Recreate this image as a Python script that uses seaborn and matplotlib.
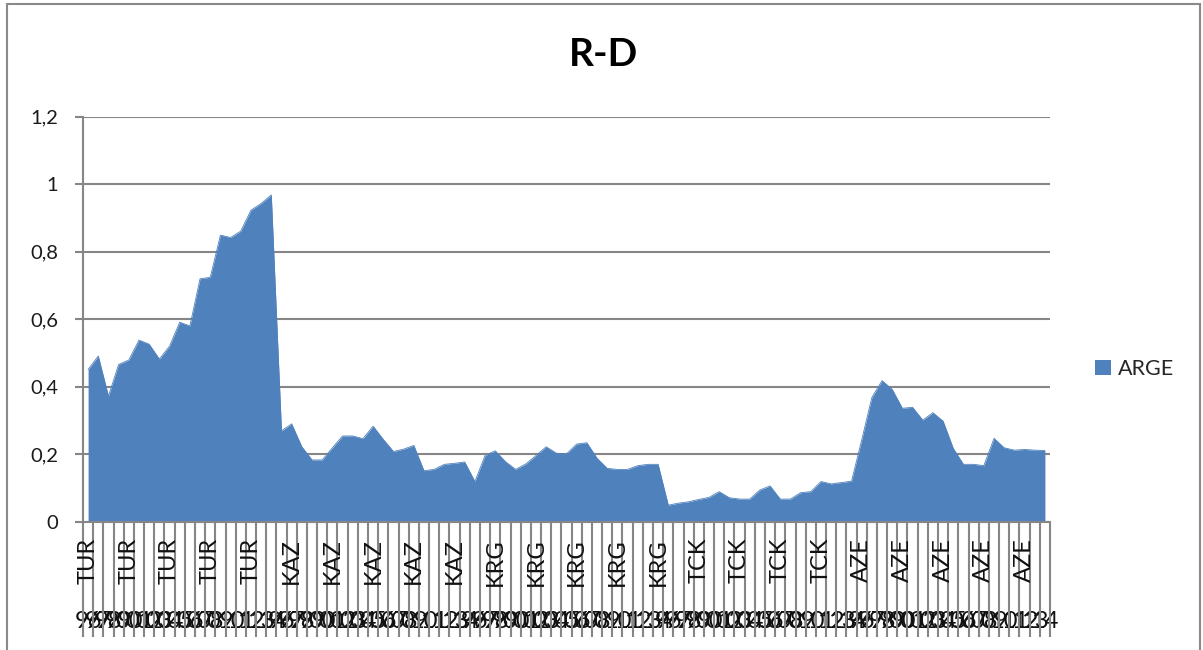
import matplotlib
matplotlib.use("Agg")
import matplotlib.pyplot as plt
import matplotlib.transforms as mtransforms
from matplotlib.patches import Patch, Rectangle
import numpy as np
import seaborn as sns

# ---------------- data ----------------
COUNTRIES = ["TUR", "KAZ", "KRG", "TCK", "AZE"]
YEARS = ["96", "97", "98", "99", "00", "01", "02", "03", "04", "05",
         "06", "07", "08", "09", "10", "11", "12", "13", "14"]
TUR = [0.451, 0.491, 0.372, 0.466, 0.479, 0.538, 0.526, 0.482, 0.520, 0.591,
       0.580, 0.720, 0.724, 0.849, 0.842, 0.861, 0.923, 0.943, 0.968]
KAZ = [0.269, 0.290, 0.222, 0.183, 0.183, 0.219, 0.254, 0.254, 0.246, 0.283,
       0.244, 0.208, 0.215, 0.226, 0.151, 0.155, 0.170, 0.173, 0.177]
KRG = [0.119, 0.196, 0.210, 0.178, 0.155, 0.171, 0.196, 0.222, 0.203, 0.201,
       0.230, 0.234, 0.188, 0.158, 0.155, 0.155, 0.166, 0.170, 0.170]
TCK = [0.049, 0.055, 0.059, 0.066, 0.072, 0.089, 0.071, 0.067, 0.067, 0.094,
       0.106, 0.067, 0.067, 0.086, 0.089, 0.119, 0.112, 0.116, 0.120]
AZE = [0.242, 0.368, 0.418, 0.392, 0.336, 0.339, 0.301, 0.323, 0.298, 0.217,
       0.170, 0.170, 0.166, 0.247, 0.219, 0.212, 0.214, 0.212, 0.211]
SERIES_NAME = "ARGE"
TITLE = "R-D"
Y_TICKS = [0, 0.2, 0.4, 0.6, 0.8, 1.0, 1.2]
Y_TICK_LABELS = ["0", "0,2", "0,4", "0,6", "0,8", "1", "1,2"]

values = TUR + KAZ + KRG + TCK + AZE
cat_country = [c for c in COUNTRIES for _ in YEARS]
cat_year = [y for _ in COUNTRIES for y in YEARS]
xpos = np.arange(len(values))

# ---------------- style ----------------
sns.set_theme(style="white")
plt.rcParams["font.family"] = ["Lato", "DejaVu Sans"]

BLUE = "#4F81BD"
GREY = "#868686"
W, H = 1203, 650

fig = plt.figure(figsize=(W / 100, H / 100), dpi=100)
fig.patch.set_facecolor("white")
ax = fig.add_axes([83 / W, 1 - 521.7 / H, (1050 - 83) / W, (521.7 - 116.7) / H])

ax.fill_between(xpos, values, 0, color=BLUE, linewidth=0, zorder=2)
sns.lineplot(x=xpos, y=values, ax=ax, color=BLUE, linewidth=0.6, legend=False, zorder=3)

ax.set_xlim(-0.5, len(values) - 0.5)
ax.set_ylim(0, 1.2)

# grid
ax.set_axisbelow(True)
ax.yaxis.grid(True, color=GREY, linewidth=1.5)
ax.xaxis.grid(False)

# spines
for s in ["top", "right"]:
    ax.spines[s].set_visible(False)
for s in ["left", "bottom"]:
    ax.spines[s].set_color(GREY)
    ax.spines[s].set_linewidth(1.5)
    ax.spines[s].set_zorder(4)

# y axis
ax.set_yticks(Y_TICKS)
ax.set_yticklabels(Y_TICK_LABELS)
ax.tick_params(axis="y", which="major", direction="out", length=5.8, width=1.5,
               color=GREY, pad=12, labelsize=14.5, labelcolor="#1a1a1a", left=True)

# x axis: year labels as major tick labels, separators as minor ticks
ax.set_xticks(xpos)
ax.set_xticklabels(cat_year)
ax.set_xticks(np.arange(-0.5, len(values), 1.0), minor=True)
ax.tick_params(axis="x", which="major", length=0, pad=64, labelsize=17,
               labelcolor="#111111", bottom=True)
ax.tick_params(axis="x", which="minor", direction="out", length=83, width=1.5,
               color=GREY, bottom=True)

# country labels every 4th category
trans = mtransforms.blended_transform_factory(ax.transData, ax.transAxes)
for i in range(0, len(values), 4):
    ax.text(xpos[i], -0.040, cat_country[i], transform=trans, rotation=90,
            ha="center", va="top", fontsize=17, color="#111111")

# title
fig.text(604 / W, 1 - 55 / H, TITLE, ha="center", va="center",
         fontsize=28, fontweight="bold", color="black")

# legend
fig.legend(handles=[Patch(facecolor=BLUE, edgecolor="none", label=SERIES_NAME)],
           loc="center left", bbox_to_anchor=(1086 / W, 1 - 369 / H),
           frameon=False, fontsize=15.5, handlelength=0.75, handleheight=0.75,
           handletextpad=0.35, borderaxespad=0)

# chart border
fig.patches.append(Rectangle((7 / W, -0.02), (1200 - 7) / W, 1.02 - 4 / H,
                             transform=fig.transFigure, fill=False,
                             edgecolor="#8a8a8a", linewidth=1.5, zorder=10))

fig.savefig("out.png", dpi=100)
